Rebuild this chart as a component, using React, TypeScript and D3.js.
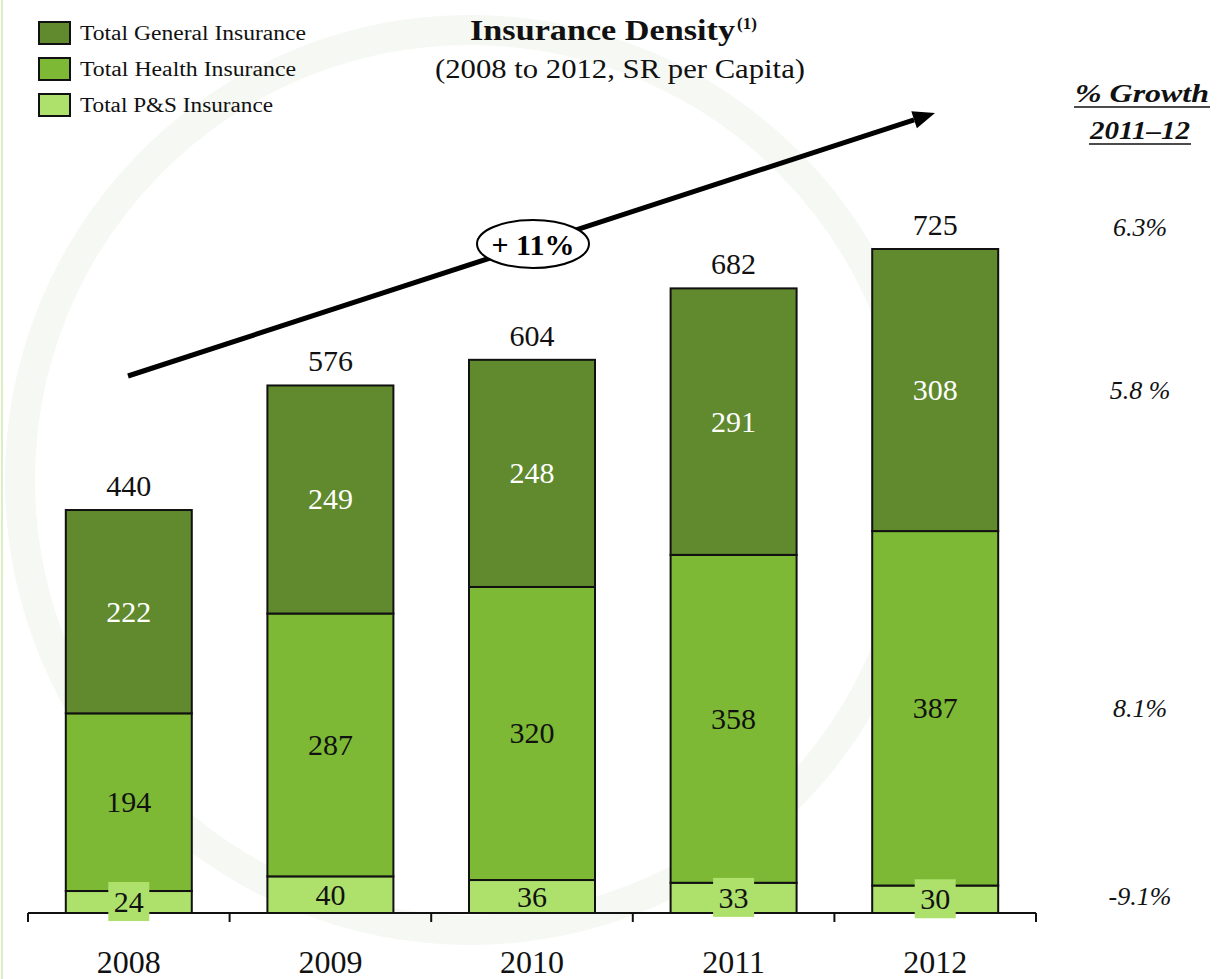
import React from "react";
import * as d3 from "d3";

const years = ["2008", "2009", "2010", "2011", "2012"];
const general = [222, 249, 248, 291, 308];
const health = [194, 287, 320, 358, 387];
const ps = [24, 40, 36, 33, 30];
const growth = ["6.3%", "5.8 %", "8.1%", "-9.1%"]; // total, general, health, p&s
const seriesNames = ["Total General Insurance", "Total Health Insurance", "Total P&S Insurance"];
const legendWidths = [226, 216, 193];
const colors = ["#608a2d", "#7db935", "#aee06c"];

const FONT = "'Palatino Linotype', 'Book Antiqua', Palatino, 'Liberation Serif', serif";

export default function App() {
  const width = 1217;
  const height = 979;
  const baseY = 913;

  const rows = years.map((y, i) => ({ year: y, ps: ps[i], health: health[i], general: general[i] }));
  const stack = d3.stack<any>().keys(["ps", "health", "general"])(rows);

  const x = d3.scaleBand().domain(years).range([28, 1036]).paddingInner(0.375).paddingOuter(0.1875);
  const y = d3.scaleLinear().domain([0, 725]).range([baseY, 249]);

  const fillFor = (key: string) =>
    key === "general" ? colors[0] : key === "health" ? colors[1] : colors[2];

  const step = x.step();
  const ticks = d3.range(years.length + 1).map(i => 28 + i * step);

  // growth labels sit next to the 2012 bar: total, general, health, p&s
  const last = rows[rows.length - 1];
  const growthY = [
    y(last.ps + last.health + last.general) - 22,
    y(last.ps + last.health + last.general / 2),
    y(last.ps + last.health / 2),
    y(last.ps / 2) - 3,
  ];

  // trend arrow
  const ax1 = 128, ay1 = 376, ax2 = 935, ay2 = 113;
  const ang = Math.atan2(ay2 - ay1, ax2 - ax1);
  const head = 22;
  const hx = ax2 - head * Math.cos(ang), hy = ay2 - head * Math.sin(ang);
  const px = Math.sin(ang) * 9, py = -Math.cos(ang) * 9;

  return (
    <svg width={width} height={height} style={{ position: "absolute", left: 0, top: 0, background: "#fff" }} fontFamily={FONT}>
      {/* faint watermark */}
      <circle cx={470} cy={480} r={450} fill="none" stroke="#f6f8f4" strokeWidth={30} />
      <line x1={2} y1={0} x2={2} y2={height} stroke="#dcefc0" strokeWidth={2} />

      {/* legend */}
      {seriesNames.map((n, i) => (
        <g key={n} transform={`translate(39, ${22 + i * 36})`}>
          <rect width={31} height={22} fill={colors[i]} stroke="#111" strokeWidth={2} />
          <text x={41} y={18} fontSize={20} fill="#111" textLength={legendWidths[i]} lengthAdjust="spacingAndGlyphs">{n}</text>
        </g>
      ))}

      {/* title */}
      <text x={470} y={40} fontSize={29} fontWeight="bold" fill="#111" textLength={265} lengthAdjust="spacingAndGlyphs">Insurance Density</text>
      <text x={737} y={29} fontSize={17} fontWeight="bold" fill="#111">(1)</text>
      <text x={435} y={78} fontSize={27} fill="#111" textLength={370} lengthAdjust="spacingAndGlyphs">(2008 to 2012, SR per Capita)</text>

      {/* growth header */}
      <text x={1075} y={102} fontSize={26} fontWeight="bold" fontStyle="italic" fill="#111" textLength={134} lengthAdjust="spacingAndGlyphs">% Growth</text>
      <text x={1090} y={139} fontSize={26} fontWeight="bold" fontStyle="italic" fill="#111" textLength={100} lengthAdjust="spacingAndGlyphs">2011–12</text>
      <line x1={1074} y1={107} x2={1210} y2={107} stroke="#111" strokeWidth={1.5} />
      <line x1={1089} y1={144} x2={1191} y2={144} stroke="#111" strokeWidth={1.5} />
      {growth.map((g, i) => (
        <text key={i} x={1140} y={growthY[i] + 9} textAnchor="middle" fontSize={26} fontStyle="italic" fill="#111">{g}</text>
      ))}

      {/* axis */}
      <line x1={28} y1={baseY} x2={1036} y2={baseY} stroke="#111" strokeWidth={2} />
      {ticks.map((t, i) => (
        <line key={i} x1={t} y1={baseY} x2={t} y2={baseY + 9} stroke="#111" strokeWidth={2} />
      ))}
      {years.map(yr => (
        <text key={yr} x={(x(yr) as number) + x.bandwidth() / 2} y={973} textAnchor="middle" fontSize={32} fill="#111">{yr}</text>
      ))}

      {/* bars */}
      {stack.map(s => (
        <g key={s.key}>
          {s.map((d, i) => (
            <rect key={i} x={x(years[i])} y={y(d[1])} width={x.bandwidth()} height={y(d[0]) - y(d[1])}
              fill={fillFor(s.key)} stroke="#111" strokeWidth={2} />
          ))}
        </g>
      ))}

      {/* segment labels */}
      {stack.map(s => (
        <g key={s.key + "l"}>
          {s.map((d, i) => {
            const cx = (x(years[i]) as number) + x.bandwidth() / 2;
            const cy = (y(d[0]) + y(d[1])) / 2;
            const v = d[1] - d[0];
            const small = s.key === "ps" && y(d[0]) - y(d[1]) < 32;
            return (
              <g key={i}>
                {small && <rect x={cx - 20.5} y={cy - 20} width={41} height={39} fill={colors[2]} />}
                <text x={cx} y={cy + 10} textAnchor="middle" fontSize={30}
                  fill={s.key === "general" ? "#fff" : "#111"}>{v}</text>
              </g>
            );
          })}
        </g>
      ))}

      {/* totals */}
      {rows.map(r => (
        <text key={r.year} x={(x(r.year) as number) + x.bandwidth() / 2} y={y(r.ps + r.health + r.general) - 14}
          textAnchor="middle" fontSize={30} fill="#111">{r.ps + r.health + r.general}</text>
      ))}

      {/* trend arrow */}
      <line x1={ax1} y1={ay1} x2={hx} y2={hy} stroke="#000" strokeWidth={5} />
      <polygon points={`${ax2},${ay2} ${hx + px},${hy + py} ${hx - px},${hy - py}`} fill="#000" />
      <ellipse cx={533} cy={244} rx={56} ry={24} fill="#fff" stroke="#000" strokeWidth={2} />
      <text x={533} y={255} textAnchor="middle" fontSize={30} fontWeight="bold" fill="#000">+ 11%</text>
    </svg>
  );
}
